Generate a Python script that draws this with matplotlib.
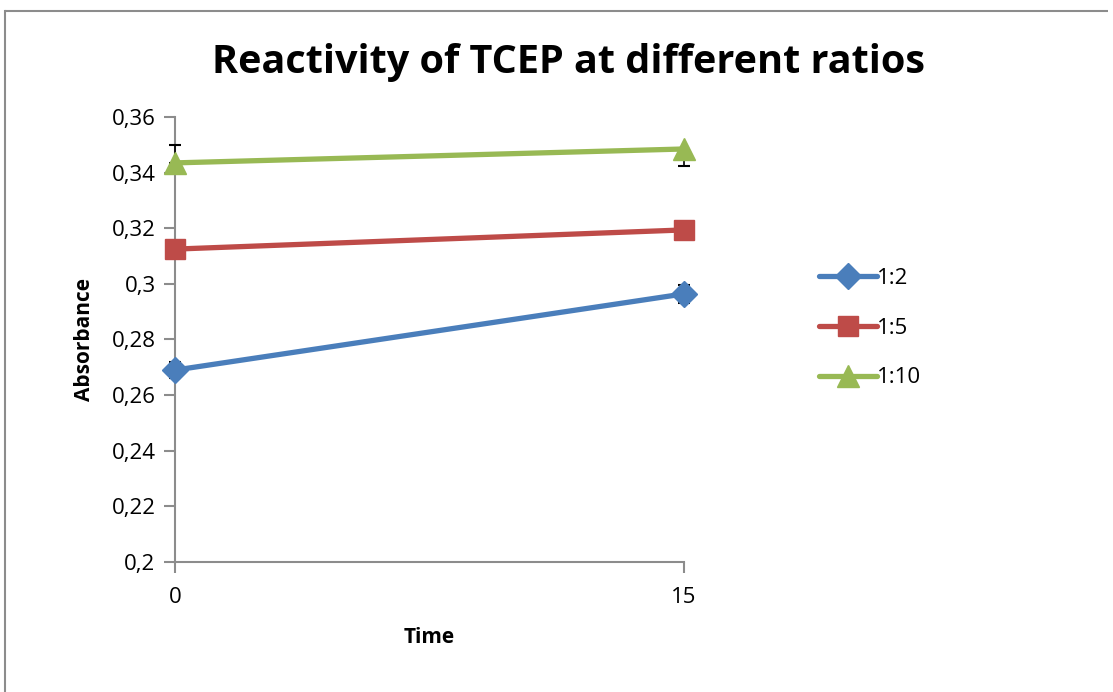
import matplotlib.pyplot as plt
from matplotlib.lines import Line2D
from matplotlib.ticker import FuncFormatter

# Absorbance readings at each time point, one series per TCEP ratio
time = [0, 15]
ratio_labels = ["1:2", "1:5", "1:10"]
abs_1_2 = [0.2690, 0.2964]
abs_1_5 = [0.3125, 0.3194]
abs_1_10 = [0.3435, 0.3485]
# error bars as (lower, upper) per time point
err_1_2 = [[0.0029, 0.0033], [0.0029, 0.0033]]
err_1_5 = [[0.0010, 0.0010], [0.0010, 0.0010]]
err_1_10 = [[0.0, 0.0062], [0.0065, 0.0]]
y_ticks = [0.20, 0.22, 0.24, 0.26, 0.28, 0.30, 0.32, 0.34, 0.36]

plt.rcParams['font.family'] = ['Open Sans', 'DejaVu Sans']

fig = plt.figure(figsize=(11.13, 6.92), dpi=100)
ax = fig.add_axes([175 / 1113, 1 - 562 / 692, (684 - 175) / 1113, (562 - 117) / 692])

# outer chart frame: only top and left edges fall inside the image
fx, fy = 4.5 / 1113, 1 - 10.5 / 692
fig.add_artist(Line2D([fx, 1108 / 1113], [fy, fy], transform=fig.transFigure,
                      color='#8c8c8c', linewidth=1.5, solid_capstyle='butt'))
fig.add_artist(Line2D([fx, fx], [0.0, fy], transform=fig.transFigure,
                      color='#8c8c8c', linewidth=1.5))

series = [
    (abs_1_2, err_1_2, '#4A7EBB', 'D', 13),
    (abs_1_5, err_1_5, '#BE4B48', 's', 15),
    (abs_1_10, err_1_10, '#98B954', '^', 16),
]
for (vals, errs, color, marker, ms), label in zip(series, ratio_labels):
    ax.errorbar(time, vals, yerr=errs, fmt='none', ecolor='black',
                elinewidth=1.2, capsize=4, capthick=1.5, zorder=2, clip_on=False)
    ax.plot(time, vals, color=color, linewidth=3.8, marker=marker,
            markersize=ms, solid_capstyle='round', label=label, zorder=3,
            clip_on=False)

ax.set_xlim(0, 15)
ax.set_ylim(0.2, 0.36)
ax.set_xticks(time)
ax.set_yticks(y_ticks)
ax.yaxis.set_major_formatter(FuncFormatter(lambda v, p: ('%g' % round(v, 2)).replace('.', ',')))

for side in ['top', 'right']:
    ax.spines[side].set_visible(False)
for side in ['left', 'bottom']:
    ax.spines[side].set_color('#8c8c8c')
    ax.spines[side].set_linewidth(1.5)
    ax.spines[side].set_zorder(1)
ax.tick_params(axis='both', colors='#8c8c8c', length=8, width=1.5, labelsize=16,
               labelcolor='black', pad=6)
ax.tick_params(axis='x', pad=10)

ax.set_xlabel('Time', fontsize=15, fontweight='bold', labelpad=14)
ax.set_ylabel('Absorbance', fontsize=15, fontweight='bold', labelpad=12)
fig.text(568 / 1113, 1 - 63 / 692, 'Reactivity of TCEP at different ratios',
         ha='center', va='center', fontsize=28.5, fontweight='bold')

ax.legend(loc='center left', bbox_to_anchor=(799 / 1113, 1 - 328 / 692),
          bbox_transform=fig.transFigure, frameon=False, fontsize=16,
          handlelength=2.6, labelspacing=1.3, handletextpad=0.0)

fig.savefig('out.png', dpi=100)
